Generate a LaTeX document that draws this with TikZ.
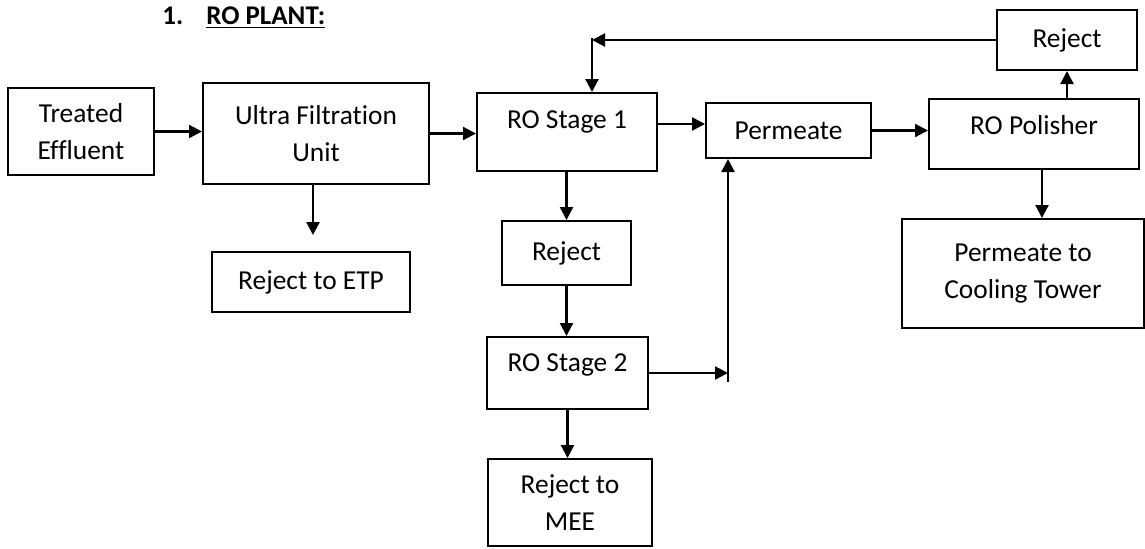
\documentclass[tikz,border=0pt]{standalone}
\usepackage{fontspec}
\setmainfont{Carlito}[Ligatures=NoCommon]
\usetikzlibrary{arrows.meta}
\begin{document}
\begin{tikzpicture}
    [x=0.5pt,y=-0.5pt,
    box/.style={draw,line width=1pt,align=center,inner sep=0pt,
      font=\fontsize{13.7}{18.5}\selectfont},
    flow/.style={line width=1.1pt,-{Triangle[length=6.5pt,width=6.5pt]}}]
    \useasboundingbox (0,0) rectangle (1145,548);
    %title
    \node[anchor=base west,inner sep=0pt,font=\bfseries\fontsize{13.5}{16}\selectfont] (title) at (162,24) {1.\hspace{11.5pt}\underline{RO PLANT:}};
    %boxes
    \node[box,minimum width=73pt,minimum height=43.5pt] (te) at (81,131.5) {Treated\\Effluent};
    \node[box,minimum width=113pt,minimum height=50.5pt] (uf) at (316,133.5) {Ultra Filtration\\Unit};
    \node[box,minimum width=99pt,minimum height=30pt] (etp) at (311,282) {Reject to ETP};
    \node[box,minimum width=90pt,minimum height=39pt,text depth=12pt] (ro1) at (567,132) {RO Stage 1};
    \node[box,minimum width=82.5pt,minimum height=27.5pt] (perm) at (788.5,130.5) {Permeate};
    \node[box,minimum width=105pt,minimum height=35pt,text depth=9.5pt] (pol) at (1034,134) {RO Polisher};
    \node[box,minimum width=70pt,minimum height=30pt] (rej1) at (1067,40) {Reject};
    \node[box,minimum width=121pt,minimum height=54.5pt] (ct) at (1023,273.5) {Permeate to\\Cooling Tower};
    \node[box,minimum width=64.5pt,minimum height=32pt] (rej2) at (566.5,253) {Reject};
    \node[box,minimum width=80.5pt,minimum height=36pt,text depth=10.5pt] (ro2) at (567.5,373) {RO Stage 2};
    \node[box,minimum width=82pt,minimum height=43.5pt] (mee) at (570,502.5) {Reject to\\MEE};
    %bends
    \coordinate (fb) at (592,38);
    \coordinate (jn) at (728,382);
    %flow lines
    \draw[flow] (te.east) -- (te.east -| uf.west);
    \draw[flow] (uf.east) -- (uf.east -| ro1.west);
    \draw[flow,shorten >=8pt] ([xshift=-1.5pt]uf.south) -- ([xshift=-1.5pt]uf.south |- etp.north);
    \draw[flow] ([yshift=4pt]ro1.east) -- ([yshift=4pt]ro1.east -| perm.west);
    \draw[flow] (perm.east) -- (perm.east -| pol.west);
    \draw[flow] (rej1.south |- pol.north) -- (rej1.south);
    \draw[flow] ([xshift=4pt]pol.south) -- ([xshift=4pt]pol.south |- ct.north);
    %recycle to stage 1
    \draw[flow] (rej1.west) -- (rej1.west -| fb);
    \draw[flow] (fb) -- (fb |- ro1.north);
    %stage 2
    \draw[flow] (rej2.north |- ro1.south) -- (rej2.north);
    \draw[flow] (rej2.south) -- (rej2.south |- ro2.north);
    \draw[flow] (ro2.south) -- (ro2.south |- mee.north);
    \draw[flow] (ro2.east) -- (ro2.east -| jn);
    \draw[flow] (jn) -- (jn |- perm.south);
\end{tikzpicture}
\end{document}
